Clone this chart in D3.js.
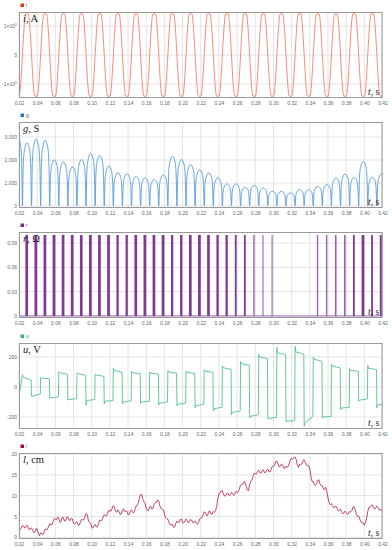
<!DOCTYPE html>
<html>
<head>
<meta charset="utf-8">
<script src="https://cdnjs.cloudflare.com/ajax/libs/d3/7.8.5/d3.min.js"></script>
<style>
body { margin: 0; background: #fff; }
svg { display: block; }
.tick text { font-family: "Liberation Sans", Arial, sans-serif; font-size: 5px; fill: #666; }
</style>
</head>
<body>
<svg></svg>
<script>
// time ticks (s)
const tTicks = [0.02, 0.04, 0.06, 0.08, 0.10, 0.12, 0.14, 0.16, 0.18, 0.20, 0.22,
    0.24, 0.26, 0.28, 0.30, 0.32, 0.34, 0.36, 0.38, 0.40, 0.42];

// current i: times of crests / troughs, flat top level
const iCrestT = [0.0288, 0.0488, 0.0688, 0.0888, 0.1088, 0.1288, 0.1488, 0.1688, 0.1888, 0.2088,
    0.2288, 0.2488, 0.2688, 0.2888, 0.3088, 0.3288, 0.3488, 0.3688, 0.3888, 0.4088];
const iTroughT = [0.0188, 0.0388, 0.0588, 0.0788, 0.0988, 0.1188, 0.1388, 0.1588, 0.1788, 0.1988,
    0.2188, 0.2388, 0.2588, 0.2788, 0.2988, 0.3188, 0.3388, 0.3588, 0.3788, 0.3988, 0.4188];
const iLevel = 142000;

// half-period boundaries (current zero crossings)
const halfT = [0.0138, 0.0238, 0.0338, 0.0438, 0.0538, 0.0638, 0.0738, 0.0838, 0.0938, 0.1038,
    0.1138, 0.1238, 0.1338, 0.1438, 0.1538, 0.1638, 0.1738, 0.1838, 0.1938, 0.2038,
    0.2138, 0.2238, 0.2338, 0.2438, 0.2538, 0.2638, 0.2738, 0.2838, 0.2938, 0.3038,
    0.3138, 0.3238, 0.3338, 0.3438, 0.3538, 0.3638, 0.3738, 0.3838, 0.3938, 0.4038,
    0.4138, 0.4238];

// conductance g: arch top in each half period (S)
const gPeak = [3000, 2750, 2900, 2850, 2000, 1920, 1700, 2020, 2280, 2190,
    1730, 1450, 1400, 1290, 1220, 1150, 1360, 2160, 2020, 1800,
    1580, 1440, 1220, 960, 960, 810, 900, 780, 640, 640,
    570, 710, 710, 855, 930, 1220, 1390, 1250, 1940, 1250, 1400];

// resistance r: spikes (centre time, duration, height)
const rT = [0.0285, 0.0385, 0.0485, 0.0585, 0.0685, 0.0785, 0.0885, 0.0985, 0.1085, 0.1185,
    0.1285, 0.1385, 0.1485, 0.1585, 0.1685, 0.1785, 0.1885, 0.1985, 0.2085, 0.2185,
    0.2285, 0.2385, 0.2485, 0.2585, 0.2685, 0.2785, 0.2885, 0.2985,
    0.3485, 0.3585, 0.3685, 0.3785, 0.3885, 0.3985, 0.4085, 0.4185];
const rW = [0.003, 0.003, 0.003, 0.003, 0.003, 0.003, 0.003, 0.003, 0.003, 0.003,
    0.0025, 0.0025, 0.003, 0.003, 0.003, 0.003, 0.0025, 0.0025, 0.003, 0.003,
    0.003, 0.0025, 0.0025, 0.002, 0.002, 0.0015, 0.0012, 0.0012,
    0.0015, 0.0015, 0.0018, 0.0018, 0.002, 0.003, 0.002, 0.003];
const rTop = 0.1;

// voltage u: per half period, spike after the jump, level at start, level at end (V)
const uInit = -62;
const uSpike = [82, -62, 62, -75, 100, -88, 95, -122, 85, -113,
    127, -113, 105, -110, 100, -120, 110, -125, 105, -140,
    115, -160, 140, -185, 170, -205, 215, -211, 264, -233,
    271, -262, 198, -207, 153, -151, 122, -96, 144, -140];
const uStart = [65, -62, 60, -73, 95, -84, 90, -90, 80, -95,
    110, -100, 95, -100, 92, -108, 100, -115, 98, -125,
    105, -145, 128, -170, 155, -195, 200, -211, 227, -228,
    233, -240, 185, -200, 140, -140, 112, -88, 125, -120];
const uEnd = [45, -47, 55, -67, 85, -78, 78, -84, 71, -91,
    98, -92, 88, -95, 85, -100, 92, -108, 90, -115,
    98, -135, 118, -160, 145, -185, 190, -202, 215, -224,
    220, -196, 171, -196, 127, -136, 104, -80, 116, -113];

// length l (cm), sampled every 2.5 ms from 0.02 s, plus the readings half-way between
const lStart = 0.02, lStep = 0.0025;
const lVals = [1.0, 2.2, 2.7, 2.5, 2.4, 2.0, 1.7, 1.3, 2.0, 0.4,
    0.9, 1.2, 1.9, 2.6, 3.0, 3.8, 4.4, 4.9, 3.6, 4.8,
    3.9, 4.8, 4.2, 4.6, 3.4, 3.6, 3.0, 3.6, 4.2, 5.0,
    5.5, 3.6, 2.4, 2.8, 2.5, 3.3, 4.0, 4.8, 5.2, 5.8,
    6.3, 7.0, 7.3, 6.0, 6.2, 5.6, 6.8, 6.3, 5.4, 6.4,
    6.0, 6.6, 7.6, 9.4, 10.3, 8.5, 7.0, 6.4, 7.4, 7.0,
    8.4, 9.0, 7.6, 6.8, 5.6, 4.4, 3.6, 3.0, 2.4, 3.3,
    3.6, 4.3, 3.6, 3.9, 4.0, 3.7, 4.1, 3.6, 3.4, 3.5,
    4.6, 5.4, 6.0, 5.2, 6.3, 5.6, 6.0, 7.4, 10.5, 11.2,
    10.4, 10.0, 10.5, 10.2, 10.6, 10.3, 10.8, 11.6, 12.7, 13.4,
    12.2, 11.2, 13.4, 14.6, 15.3, 15.8, 15.5, 16.0, 15.6, 16.1,
    15.8, 16.3, 17.0, 18.2, 17.6, 17.0, 17.4, 16.6, 16.8, 17.8,
    19.0, 19.1, 18.7, 16.8, 17.4, 18.4, 18.0, 17.3, 16.4, 13.4,
    12.6, 12.9, 13.8, 12.4, 11.6, 12.0, 9.5, 7.8, 7.6, 7.3,
    7.0, 6.4, 6.2, 5.8, 6.0, 5.6, 6.1, 7.3, 6.6, 5.0,
    4.4, 3.5, 2.9, 4.6, 7.2, 7.6, 7.3, 7.0, 7.2, 6.6, 6.2];
const lMid = [1.9, 2.9, 2.2, 2.9, 1.8, 2.3, 1.1, 2.1, 1.0, 1.1,
    0.6, 2.0, 1.9, 3.3, 3.0, 4.5, 4.2, 4.6, 3.8, 4.8,
    4.0, 4.9, 4.0, 4.4, 3.1, 3.7, 2.9, 4.3, 4.2, 5.7,
    4.2, 3.4, 2.2, 3.1, 2.5, 4.1, 4.1, 5.4, 5.1, 6.5,
    6.3, 7.6, 6.3, 6.6, 5.5, 6.6, 6.2, 6.3, 5.5, 6.6,
    5.9, 7.5, 8.3, 10.2, 9.1, 8.1, 6.4, 7.3, 6.8, 8.1,
    8.4, 8.7, 6.9, 6.6, 4.7, 4.4, 3.0, 3.1, 2.5, 3.9,
    3.6, 4.4, 3.4, 4.4, 3.5, 4.3, 3.5, 3.9, 3.1, 4.4,
    4.7, 6.1, 5.3, 6.2, 5.6, 6.2, 6.4, 9.2, 10.6, 11.2,
    9.9, 10.6, 10.0, 10.8, 10.1, 11.0, 10.9, 12.5, 12.7, 13.2,
    11.4, 12.6, 13.7, 15.3, 15.2, 16.1, 15.4, 16.2, 15.5, 16.4,
    15.7, 17.1, 17.3, 18.3, 16.9, 17.6, 16.6, 17.1, 17.0, 18.8,
    18.7, 19.3, 17.4, 17.5, 17.6, 18.6, 17.3, 17.2, 14.6, 13.4,
    12.5, 13.7, 12.8, 12.4, 11.5, 11.0, 8.4, 8.1, 7.1, 7.5,
    6.4, 6.7, 5.7, 6.3, 5.5, 6.2, 6.4, 7.3, 5.5, 5.1,
    3.7, 3.5, 3.5, 6.2, 7.2, 7.8, 6.8, 7.5, 6.6, 6.7];

const svg = d3.select("svg").attr("width", 392).attr("height", 550);
const x = d3.scaleLinear().domain([0.02, 0.42]).range([19, 382.5]);
const PH = 86;

function panel(cfg) {
    const top = cfg.top;
    const y = d3.scaleLinear().domain(cfg.domain).range([top + PH, top]);
    const g = svg.append("g");

    svg.append("clipPath").attr("id", "clip-" + cfg.key)
        .append("rect")
        .attr("x", x.range()[0]).attr("y", top)
        .attr("width", x.range()[1] - x.range()[0]).attr("height", PH);

    // grid
    g.selectAll("line.vg").data(tTicks).join("line")
        .attr("x1", d => x(d)).attr("x2", d => x(d))
        .attr("y1", top).attr("y2", top + PH)
        .attr("stroke", "#e3e3e3").attr("stroke-width", 1);
    g.selectAll("line.hg").data(cfg.ticks).join("line")
        .attr("x1", x.range()[0]).attr("x2", x.range()[1])
        .attr("y1", d => y(d)).attr("y2", d => y(d))
        .attr("stroke", "#e3e3e3").attr("stroke-width", 1);

    // axes
    g.append("g")
        .attr("transform", "translate(0," + (top + PH) + ")")
        .call(d3.axisBottom(x).tickValues(tTicks).tickFormat(d3.format(".2f")).tickSize(0).tickPadding(3))
        .call(s => s.select(".domain").remove());
    const ya = g.append("g")
        .attr("transform", "translate(" + x.range()[0] + ",0)")
        .call(d3.axisLeft(y).tickValues(cfg.ticks).tickFormat(cfg.fmt).tickSize(0).tickPadding(2))
        .call(s => s.select(".domain").remove());
    if (cfg.sup) {
        ya.selectAll(".tick text").each(function(d) {
            const t = d3.select(this);
            if (d === 0) return;
            t.text(d < 0 ? "-1×10" : "1×10");
            t.append("tspan").attr("dy", "-0.5em").attr("font-size", "3.5px").text("5");
        });
    }

    // marks
    const plot = g.append("g").attr("clip-path", "url(#clip-" + cfg.key + ")");
    cfg.draw(plot, y);

    // frame
    g.append("rect")
        .attr("x", x.range()[0] + 0.5).attr("y", top + 0.5)
        .attr("width", x.range()[1] - x.range()[0] - 1).attr("height", PH - 1)
        .attr("fill", "none").attr("stroke", "#9a9a9a").attr("stroke-width", 1);

    // legend
    g.append("rect").attr("x", 20.5).attr("y", top - 8.5).attr("width", 3.5).attr("height", 3.5)
        .attr("fill", cfg.legend);
    g.append("text").attr("x", 26).attr("y", top - 5)
        .attr("font-family", "Liberation Sans, Arial, sans-serif").attr("font-size", 5)
        .attr("fill", "#666").text(cfg.key);

    // quantity label
    const lab = g.append("text").attr("x", 23).attr("y", top + 9.5)
        .attr("font-family", "Liberation Serif, Times New Roman, serif").attr("font-size", 10.5)
        .attr("fill", "#222");
    lab.append("tspan").attr("font-style", "italic").text(cfg.key);
    lab.append("tspan").text(", " + cfg.unit);

    const tl = g.append("text").attr("x", 368).attr("y", top + PH - 3)
        .attr("font-family", "Liberation Serif, Times New Roman, serif").attr("font-size", 9.5)
        .attr("fill", "#222");
    tl.append("tspan").attr("font-style", "italic").text("t");
    tl.append("tspan").text(", s");
}

function drawLine(plot, pts, y, color, curve, width) {
    const line = d3.line().x(d => x(d[0])).y(d => y(d[1])).curve(curve || d3.curveLinear);
    plot.append("path").datum(pts).attr("d", line)
        .attr("fill", "none").attr("stroke", color).attr("stroke-width", width || 0.9)
        .attr("stroke-linejoin", "round");
}

// i
panel({
    key: "i", unit: "A", top: 12, domain: [-148300, 148300], ticks: [-100000, 0, 100000],
    fmt: d => d, sup: true, legend: "#e8301c",
    draw: function(plot, y) {
        const ext = iCrestT.map(t => [t, iLevel]).concat(iTroughT.map(t => [t, -iLevel]))
            .sort((a, b) => a[0] - b[0]);
        const pts = [];
        ext.forEach(e => {
            pts.push([e[0] - 0.0013, e[1]]);
            pts.push([e[0] + 0.0013, e[1]]);
        });
        drawLine(plot, pts, y, "#f5806a", d3.curveMonotoneX, 0.9);
    }
});

// g
const archF = [0, 0.08, 0.2, 0.5, 0.8, 0.92];
const archV = [0, 0.62, 0.86, 1, 0.88, 0.6];
panel({
    key: "g", unit: "S", top: 122, domain: [-87, 3652], ticks: [0, 1000, 2000, 3000],
    fmt: d3.format(","), legend: "#2b71c8",
    draw: function(plot, y) {
        const pts = [];
        gPeak.forEach((p, k) => {
            const t0 = halfT[k], t1 = halfT[k + 1];
            archF.forEach((f, j) => pts.push([t0 + f * (t1 - t0), archV[j] * p]));
        });
        pts.push([halfT[halfT.length - 1], 0]);
        drawLine(plot, pts, y, "#5298de", d3.curveMonotoneX, 0.9);
    }
});

// r
panel({
    key: "r", unit: "Ω", top: 232, domain: [-0.0025, 0.1037], ticks: [0, 0.03, 0.06, 0.09],
    fmt: d => d === 0 ? "0" : d3.format(".2f")(d), legend: "#7b2d90",
    draw: function(plot, y) {
        plot.append("line")
            .attr("x1", x(0.02)).attr("x2", x(0.42)).attr("y1", y(0)).attr("y2", y(0))
            .attr("stroke", "#a56fbd").attr("stroke-width", 1);
        plot.selectAll("rect.bar").data(rT).join("rect")
            .attr("x", (d, i) => x(d - rW[i] / 2))
            .attr("width", (d, i) => Math.max(1, x(d + rW[i] / 2) - x(d - rW[i] / 2)))
            .attr("y", y(rTop)).attr("height", y(0) - y(rTop))
            .attr("fill", "#7b2d90").attr("fill-opacity", (d, i) => rW[i] < 0.002 ? 0.75 : 0.95);
    }
});

// u
panel({
    key: "u", unit: "V", top: 343, domain: [-280, 293], ticks: [-200, 0, 200],
    fmt: d => d, legend: "#33b565",
    draw: function(plot, y) {
        const pts = [[0.02, uInit]];
        uSpike.forEach((s, k) => {
            const t0 = halfT[k + 1], t1 = halfT[k + 2];
            pts.push([t0, s]);
            pts.push([t0 + 0.0008, uStart[k]]);
            pts.push([t1 - 0.0004, uEnd[k]]);
        });
        drawLine(plot, pts, y, "#55c586", null, 0.9);
    }
});

// l
panel({
    key: "l", unit: "cm", top: 453, domain: [-0.4, 20.24], ticks: [0, 5, 10, 15, 20],
    fmt: d => d, legend: "#a3102f",
    draw: function(plot, y) {
        const pts = [];
        lVals.forEach((v, j) => {
            pts.push([lStart + j * lStep, v]);
            if (j < lMid.length) pts.push([lStart + (j + 0.5) * lStep, lMid[j]]);
        });
        drawLine(plot, pts, y, "#b01a42", null, 0.8);
    }
});
</script>
</body>
</html>
